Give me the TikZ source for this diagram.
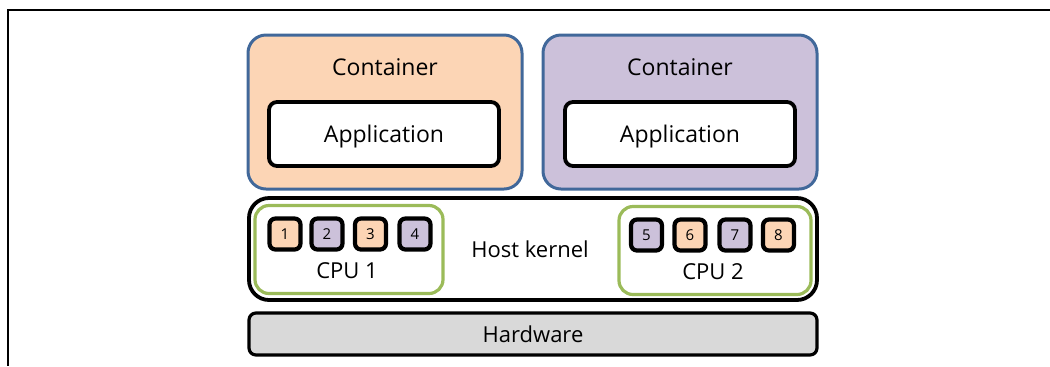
\documentclass[tikz,border=0pt]{standalone}
\usepackage{fontspec}
\setmainfont{Open Sans}
\definecolor{peach}{HTML}{FCD5B5}
\definecolor{lav}{HTML}{CCC1DA}
\definecolor{cblue}{HTML}{41689A}
\definecolor{cgreen}{HTML}{9BBB59}
\definecolor{hwgray}{HTML}{D9D9D9}
\tikzset{
  container/.style={draw=cblue, line width=1.5pt, rounded corners=9pt, minimum width=137pt, minimum height=77pt, inner sep=0pt},
  appbox/.style={draw=black, fill=white, line width=1.9pt, rounded corners=4pt, minimum width=115pt, minimum height=32pt, inner sep=0pt, text depth=0pt, font=\fontsize{11.5pt}{13pt}\selectfont},
  kernelbox/.style={draw=black, line width=1.9pt, rounded corners=10pt, minimum width=284pt, minimum height=51pt, inner sep=0pt},
  cpubox/.style={draw=cgreen, line width=1.6pt, rounded corners=7pt, minimum height=44pt, inner sep=0pt},
  core/.style={draw=black, line width=2.1pt, rounded corners=3pt, minimum width=15.5pt, minimum height=15.5pt, inner sep=0pt, font=\fontsize{7.5pt}{8pt}\selectfont},
  hwbox/.style={draw=black, fill=hwgray, line width=1.6pt, rounded corners=3.5pt, minimum width=284pt, minimum height=21pt, inner sep=0pt, font=\fontsize{11pt}{13pt}\selectfont},
  lbl/.style={inner sep=0pt, font=\fontsize{11.5pt}{13pt}\selectfont},
  slbl/.style={inner sep=0pt, font=\fontsize{11pt}{13pt}\selectfont}
}
\begin{document}
\begin{tikzpicture}[x=0.5pt, y=-0.5pt]
\useasboundingbox (0,0) rectangle (1050,366);
\draw[line width=1.1pt] (1050,10) -- (8,10) -- (8,366);
% containers
\node[container, fill=peach] (c1) at (385,112) {};
\node[container, fill=lav] (c2) at (680,112) {};
\node[lbl] (c1t) at (385,67) {Container};
\node[lbl] (c2t) at (680,67) {Container};
\node[appbox] (a1) at (384,134) {Application};
\node[appbox] (a2) at (680,134) {Application};
% host kernel
\node[kernelbox] (hk) at (533,249) {};
\node[slbl] (hkt) at (530,249) {Host kernel};
\node[cpubox, minimum width=94pt] (cpu1) at (349,249.5) {};
\node[cpubox, minimum width=96pt] (cpu2) at (715,250.5) {};
\node[slbl] (cpu1t) at (347,271) {CPU 1};
\node[slbl] (cpu2t) at (713,272) {CPU 2};
\node[core, fill=peach] (k1) at (285,234) {1};
\node[core, fill=lav] (k2) at (327,234) {2};
\node[core, fill=peach] (k3) at (370.5,234) {3};
\node[core, fill=lav] (k4) at (415,234) {4};
\node[core, fill=lav] (k5) at (646.5,235) {5};
\node[core, fill=peach] (k6) at (690,235) {6};
\node[core, fill=lav] (k7) at (735,235) {7};
\node[core, fill=peach] (k8) at (778.5,235) {8};
% hardware
\node[hwbox] (hw) at (533,334) {Hardware};
\end{tikzpicture}
\end{document}
